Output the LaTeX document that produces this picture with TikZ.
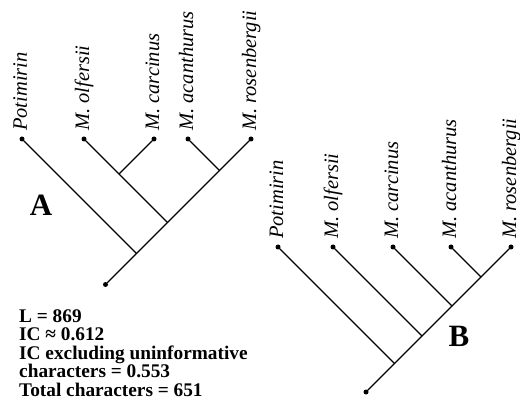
\documentclass[tikz,border=0pt]{standalone}
\usepackage{fontspec}
\setmainfont{Liberation Serif}
\tikzset{
  dot/.style={circle,fill=black,inner sep=0pt,minimum size=5pt},
  branch/.style={line width=1.2pt,line cap=round},
  taxon/.style={rotate=90,anchor=base west,inner sep=0pt,font=\fontsize{20.5}{20.5}\selectfont\itshape},
  treelabel/.style={inner sep=0pt,font=\fontsize{31}{31}\selectfont\bfseries},
  stats/.style={inner sep=0pt,anchor=north west,align=left,font=\fontsize{19.3}{18.5}\selectfont\bfseries}
}
\begin{document}
\begin{tikzpicture}[x=1pt,y=-1pt]
\useasboundingbox (0,0) rectangle (520,401);
% ---------- Tree A ----------
\node[dot] (aP) at (22,139) {};
\node[dot] (aO) at (84,139) {};
\node[dot] (aC) at (154,139) {};
\node[dot] (aA) at (188,139) {};
\node[dot] (aR) at (251,139) {};
\coordinate (aOC) at (119,174);
\coordinate (aAR) at (219.5,170.5);
\coordinate (aOx) at (167.5,222.5);
\coordinate (aPx) at (136.5,253.5);
\node[dot] (aRoot) at (105.5,284.5) {};
\draw[branch] (aRoot) -- (aR);
\draw[branch] (aP) -- (aPx);
\draw[branch] (aO) -- (aOx);
\draw[branch] (aC) -- (aOC);
\draw[branch] (aA) -- (aAR);
\node[taxon] (laP) at (27,131) {Potimirin};
\node[taxon] (laO) at (89,131) {M. olfersii};
\node[taxon] (laC) at (159,131) {M. carcinus};
\node[taxon] (laA) at (193,131) {M. acanthurus};
\node[taxon] (laR) at (256,131) {M. rosenbergii};
\node[treelabel] (labA) at (41,205) {A};
% ---------- Tree B ----------
\node[dot] (bP) at (278,247) {};
\node[dot] (bO) at (333,247) {};
\node[dot] (bC) at (393,247) {};
\node[dot] (bA) at (451,247) {};
\node[dot] (bR) at (511,247) {};
\coordinate (bAx) at (481,277);
\coordinate (bCx) at (452,306);
\coordinate (bOx) at (422,336);
\coordinate (bPx) at (394.5,363.5);
\node[dot] (bRoot) at (366,392) {};
\draw[branch] (bRoot) -- (bR);
\draw[branch] (bP) -- (bPx);
\draw[branch] (bO) -- (bOx);
\draw[branch] (bC) -- (bCx);
\draw[branch] (bA) -- (bAx);
\node[taxon] (lbP) at (283,239) {Potimirin};
\node[taxon] (lbO) at (338,239) {M. olfersii};
\node[taxon] (lbC) at (398,239) {M. carcinus};
\node[taxon] (lbA) at (456,239) {M. acanthurus};
\node[taxon] (lbR) at (516,239) {M. rosenbergii};
\node[treelabel] (labB) at (459,336) {B};
% ---------- statistics ----------
\node[stats] (st) at (19,309) {L = 869\\IC ≈ 0.612\\IC excluding uninformative\\characters = 0.553\\Total characters = 651};
\end{tikzpicture}
\end{document}
